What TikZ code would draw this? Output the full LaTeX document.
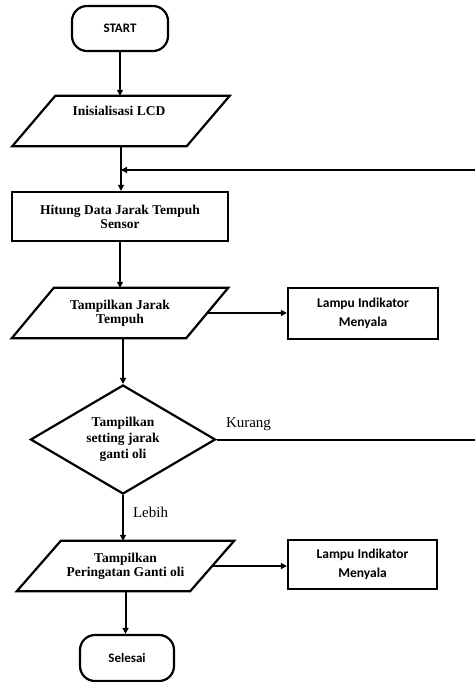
\documentclass[tikz,border=0pt]{standalone}
\usepackage{fontspec}
\setmainfont{Liberation Serif}
\newfontfamily\calibri{Carlito}
\usetikzlibrary{shapes.geometric,arrows.meta,calc}
\begin{document}
\begin{tikzpicture}[x=1pt,y=-1pt,
  box/.style={draw,line width=2.2pt,rectangle,inner sep=0pt,align=center},
  term/.style={draw,line width=2.2pt,rounded corners=15pt,inner sep=0pt,font=\calibri\bfseries\fontsize{13}{15}\selectfont},
  pbox/.style={rectangle,inner sep=0pt,align=center},
  pshape/.style={line width=2.2pt,line join=miter},
  dec/.style={draw,diamond,line width=2.2pt,inner sep=0pt,aspect=1.7,align=center},
  lbl/.style={font=\fontsize{15}{17}\selectfont,inner sep=0pt},
  flow/.style={line width=2pt,-{Triangle[length=6pt,width=6pt]}},
  plain/.style={line width=2pt},
  ttxt/.style={font=\bfseries\fontsize{13.5}{14}\selectfont},
  dtxt/.style={font=\bfseries\fontsize{13.5}{16}\selectfont},
  ctxt/.style={font=\calibri\bfseries\fontsize{13.5}{19}\selectfont},
]
\useasboundingbox (0,0) rectangle (475,682);

% terminals
\node[term,minimum width=96pt,minimum height=45pt] (start) at (120,28.5) {START};
\node[term,minimum width=94pt,minimum height=46pt] (sel) at (127,658) {Selesai};

% parallelogram 1
\node[pbox,minimum width=217pt,minimum height=50pt] (p1) at (121,121) {};
\draw[pshape] ([xshift=43pt]p1.north west) -- (p1.north east) -- ([xshift=-43pt]p1.south east) -- (p1.south west) -- cycle;
\node[ttxt,inner sep=0pt] (t1) at (119,111) {Inisialisasi LCD};

% process
\node[box,ttxt,minimum width=216pt,minimum height=49pt] (hit) at (120,216.5) {Hitung Data Jarak Tempuh\\Sensor};

% parallelogram 2
\node[pbox,ttxt,minimum width=216pt,minimum height=50pt] (p2) at (120,313) {Tampilkan Jarak\\Tempuh};
\draw[pshape] ([xshift=42pt]p2.north west) -- (p2.north east) -- ([xshift=-42pt]p2.south east) -- (p2.south west) -- cycle;
\node[box,ctxt,minimum width=150pt,minimum height=51pt] (l1) at (363,313.5) {Lampu Indikator\\Menyala};

% decision
\node[dec,dtxt,minimum width=185pt,minimum height=109pt] (d) at (123,439.5) {Tampilkan\\setting jarak\\ganti oli};
\node[lbl] (kur) at (248.5,424) {Kurang};
\node[lbl] (leb) at (150.5,512) {Lebih};

% parallelogram 3
\node[pbox,ttxt,minimum width=217pt,minimum height=50pt] (p3) at (125.5,566) {Tampilkan\\Peringatan Ganti oli};
\draw[pshape] ([xshift=44pt]p3.north west) -- (p3.north east) -- ([xshift=-44pt]p3.south east) -- (p3.south west) -- cycle;
\node[box,ctxt,minimum width=149pt,minimum height=49pt] (l2) at (362.5,564.5) {Lampu Indikator\\Menyala};

% loop coordinates
\coordinate (rt1) at (475,170);
\coordinate (jn) at (p1.south |- rt1);
\coordinate (rt2) at (475,439.5);

% connectors
\draw[flow] (start.south) -- (start.south |- p1.north);
\draw[flow] (p1.south) -- (p1.south |- hit.north);
\draw[flow] (rt1) -- (jn);
\draw[flow] (hit.south) -- (hit.south |- p2.north);
\draw[flow] ([xshift=-21pt]p2.east) -- (l1.west |- p2.east);
\draw[flow] (d.north |- p2.south) -- (d.north);
\draw[plain] (d.east) -- (rt2);
\draw[flow] (d.south) -- (d.south |- p3.north);
\draw[flow] ([xshift=-22pt]p3.east) -- (l2.west |- p3.east);
\draw[flow] (p3.south) -- (p3.south |- sel.north);
\end{tikzpicture}
\end{document}
